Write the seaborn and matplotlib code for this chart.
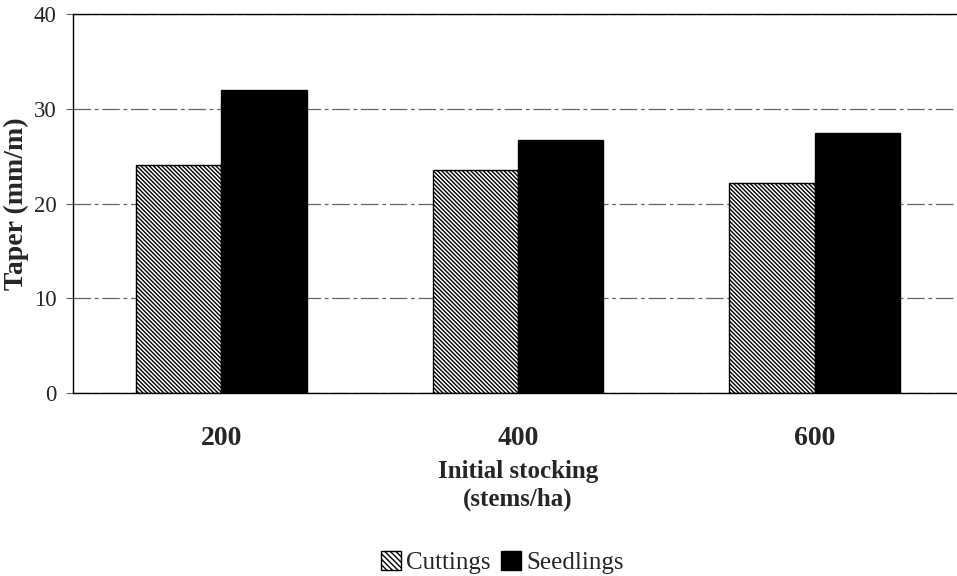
import matplotlib
matplotlib.use("Agg")
import matplotlib.pyplot as plt
import seaborn as sns
import pandas as pd
from matplotlib.patches import Patch

stocking = ["200", "400", "600"]
cuttings = [24.1, 23.5, 22.2]
seedlings = [32.0, 26.7, 27.4]
series = ["Cuttings", "Seedlings"]

df = pd.DataFrame({
    "stocking": stocking * 2,
    "taper": cuttings + seedlings,
    "type": [series[0]] * len(stocking) + [series[1]] * len(stocking),
})

sns.set_theme(style="white")
plt.rcParams["font.family"] = ["Liberation Serif", "DejaVu Serif"]
plt.rcParams["hatch.linewidth"] = 1.0
plt.rcParams["hatch.color"] = "black"

fig = plt.figure(figsize=(9.57, 5.76), dpi=100)
ax = fig.add_axes([0.0763, 0.3177, 0.93, 0.658])

sns.barplot(data=df, x="stocking", y="taper", hue="type", order=stocking,
            hue_order=series, palette=["white", "black"], width=0.575,
            edgecolor="black", linewidth=1.0, saturation=1, ax=ax, legend=False)

n = len(stocking)
for i, p in enumerate(ax.patches[:2 * n]):
    if i < n:
        p.set_hatch("\\" * 8)
        p.set_facecolor("white")
    else:
        p.set_facecolor("black")

ax.set_ylim(0, 40)
ax.set_xlim(-0.5, 2.5)
ax.set_yticks([0, 10, 20, 30, 40])
ax.yaxis.grid(True, color="#666666", linewidth=0.9, linestyle=(0, (14, 3, 3, 3)))
ax.set_axisbelow(True)
for s in ["left", "bottom", "top"]:
    ax.spines[s].set_visible(True)
    ax.spines[s].set_color("black")
    ax.spines[s].set_linewidth(1.0)
ax.spines["right"].set_visible(False)

ax.tick_params(axis="y", which="both", left=True, length=5, width=0.8,
               color="#666666", labelsize=16.5, pad=7, direction="out")
ax.tick_params(axis="x", bottom=False, labelsize=20, pad=18)
for lab in ax.get_xticklabels():
    lab.set_fontweight("bold")

ax.set_ylabel("Taper (mm/m)", fontsize=20, fontweight="bold")
ax.yaxis.set_label_coords(-0.05, 0.5)
ax.set_xlabel("Initial stocking\n(stems/ha)", fontsize=18, fontweight="bold",
              labelpad=6, linespacing=1.3)

handles = [Patch(facecolor="white", edgecolor="black", hatch="\\" * 6, label=series[0]),
           Patch(facecolor="black", edgecolor="black", label=series[1])]
fig.legend(handles=handles, loc="center", bbox_to_anchor=(0.525, 0.024), ncol=2,
           frameon=False, fontsize=18, handlelength=0.8, handleheight=0.8,
           handletextpad=0.2, columnspacing=0.4)

fig.savefig("out.png", dpi=100)
